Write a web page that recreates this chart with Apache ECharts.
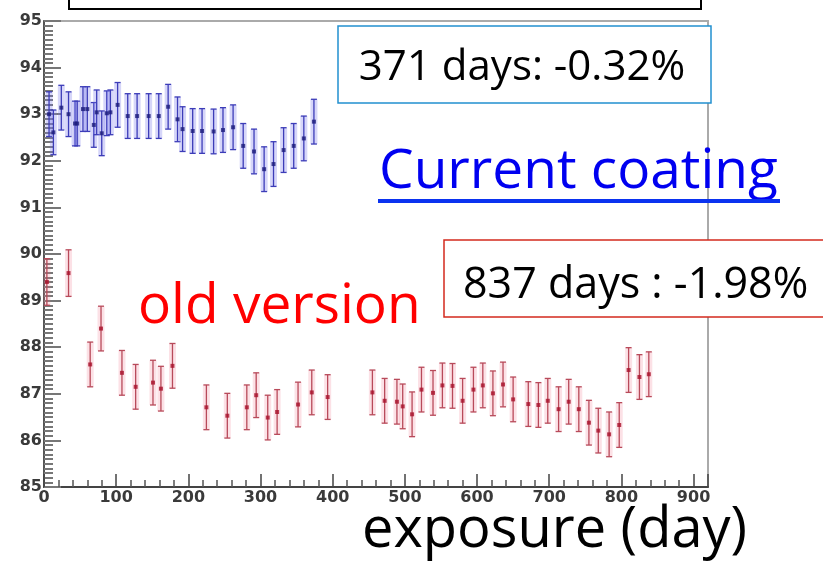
<!DOCTYPE html>
<html>
<head>
<meta charset="utf-8">
<script src="https://cdn.jsdelivr.net/npm/echarts@6/dist/echarts.min.js"></script>
<style>
html,body{margin:0;padding:0;background:#fff;}
#chart{width:823px;height:562px;}
</style>
</head>
<body>
<div id="chart"></div>
<script>
// ---- data ----
var blueDays = [7, 13, 24, 34, 43, 46, 54, 60, 69, 73, 80, 87, 92, 102, 116, 129, 145, 159, 172, 185, 192, 206, 219, 235, 248, 262, 276, 291, 305, 318, 332, 346, 360, 374];
var blueValues = [93.00, 92.61, 93.14, 93.00, 92.80, 92.80, 93.11, 93.11, 92.77, 93.04, 92.59, 93.02, 93.04, 93.20, 92.96, 92.96, 92.96, 92.96, 93.16, 92.89, 92.68, 92.64, 92.64, 92.63, 92.66, 92.72, 92.32, 92.20, 91.82, 91.93, 92.23, 92.32, 92.48, 92.84];
var blueErrors = [0.48, 0.48, 0.48, 0.48, 0.48, 0.48, 0.48, 0.48, 0.48, 0.48, 0.48, 0.48, 0.48, 0.48, 0.48, 0.48, 0.48, 0.48, 0.48, 0.48, 0.48, 0.48, 0.48, 0.48, 0.48, 0.48, 0.48, 0.48, 0.48, 0.48, 0.48, 0.48, 0.48, 0.48];

var redDays = [4, 34, 64, 79, 108, 127, 151, 162, 178, 225, 254, 281, 294, 310, 323, 352, 371, 393, 455, 472, 489, 497, 510, 523, 539, 552, 566, 580, 595, 608, 622, 636, 650, 671, 685, 698, 713, 727, 741, 755, 768, 783, 797, 810, 825, 838];
var redValues = [89.40, 89.59, 87.63, 88.40, 87.45, 87.15, 87.24, 87.11, 87.60, 86.71, 86.53, 86.71, 86.97, 86.49, 86.61, 86.77, 87.03, 86.93, 87.03, 86.85, 86.83, 86.73, 86.56, 87.09, 87.02, 87.18, 87.17, 86.85, 87.09, 87.18, 87.01, 87.20, 86.88, 86.78, 86.76, 86.85, 86.67, 86.83, 86.67, 86.38, 86.21, 86.13, 86.33, 87.51, 87.36, 87.42];
var redErrors = [0.50, 0.50, 0.48, 0.48, 0.48, 0.48, 0.48, 0.48, 0.48, 0.48, 0.48, 0.48, 0.48, 0.48, 0.48, 0.48, 0.48, 0.48, 0.48, 0.48, 0.48, 0.48, 0.48, 0.48, 0.48, 0.48, 0.48, 0.48, 0.48, 0.48, 0.48, 0.48, 0.48, 0.48, 0.48, 0.48, 0.48, 0.48, 0.48, 0.48, 0.48, 0.48, 0.48, 0.48, 0.48, 0.48];

var xTickLabels = ['0', '100', '200', '300', '400', '500', '600', '700', '800', '900'];
var yTickLabels = ['85', '86', '87', '88', '89', '90', '91', '92', '93', '94', '95'];

var boxBlueText = '371 days: -0.32%';
var boxRedText = '837 days : -1.98%';
var currentLabel = 'Current coating';
var oldLabel = 'old version';
var xTitle = 'exposure (day)';

// ---- build ----
function rows(d, v, e) {
  var out = [];
  for (var i = 0; i < d.length; i++) out.push([d[i], v[i], e[i]]);
  return out;
}
var blueRows = rows(blueDays, blueValues, blueErrors);
var redRows = rows(redDays, redValues, redErrors);

function errRender(halo, lineCol) {
  return function (params, api) {
    var x = api.value(0), y = api.value(1), e = api.value(2);
    var top = api.coord([x, y + e]);
    var bot = api.coord([x, y - e]);
    var cap = 3;
    return {
      type: 'group',
      children: [
        { type: 'rect', shape: { x: top[0] - 3.5, y: top[1], width: 7, height: bot[1] - top[1] }, style: { fill: halo } },
        { type: 'line', shape: { x1: top[0], y1: top[1], x2: bot[0], y2: bot[1] }, style: { stroke: lineCol, lineWidth: 1.3 } },
        { type: 'line', shape: { x1: top[0] - cap, y1: top[1], x2: top[0] + cap, y2: top[1] }, style: { stroke: lineCol, lineWidth: 1.3 } },
        { type: 'line', shape: { x1: bot[0] - cap, y1: bot[1], x2: bot[0] + cap, y2: bot[1] }, style: { stroke: lineCol, lineWidth: 1.3 } }
      ]
    };
  };
}

var chart = echarts.init(document.getElementById('chart'), null, { renderer: 'canvas' });
var labelFont = { fontFamily: 'DejaVu Sans', fontWeight: 'bold', fontSize: 16, color: '#3a3a3a' };

chart.setOption({
  animation: false,
  backgroundColor: '#ffffff',
  grid: { left: 44, right: 115, top: 21, bottom: 75, show: true, borderColor: '#aaaaaa', borderWidth: 2, backgroundColor: 'transparent' },
  xAxis: {
    type: 'value', min: 0, max: 920, interval: 100,
    axisLine: { show: true, onZero: false, lineStyle: { color: '#444', width: 2 } },
    axisTick: { show: true, inside: true, length: 13, lineStyle: { color: '#444', width: 1.5 } },
    minorTick: { show: true, splitNumber: 5, length: 7, lineStyle: { color: '#555', width: 1.5 } },
    splitLine: { show: false },
    axisLabel: Object.assign({ margin: 3, showMaxLabel: true, formatter: function (v) { var s = String(v); return xTickLabels.indexOf(s) >= 0 ? s : ''; } }, labelFont)
  },
  yAxis: {
    type: 'value', min: 85, max: 95, interval: 1,
    axisLine: { show: true, onZero: false, lineStyle: { color: '#555', width: 2 } },
    axisTick: { show: true, inside: true, length: 17, lineStyle: { color: '#777', width: 2 } },
    minorTick: { show: true, splitNumber: 10, length: 9, lineStyle: { color: '#777', width: 2 } },
    splitLine: { show: false },
    axisLabel: Object.assign({ margin: 2, formatter: function (v) { var s = String(v); return yTickLabels.indexOf(s) >= 0 ? s : ''; } }, labelFont)
  },
  series: [
    { type: 'custom', data: blueRows, renderItem: errRender('rgba(120,120,235,0.3)', '#3c3cb8'), encode: { x: 0, y: 1 }, z: 2 },
    { type: 'scatter', data: blueRows, symbol: 'rect', symbolSize: 4, itemStyle: { color: '#1a1a7a' }, encode: { x: 0, y: 1 }, z: 3 },
    { type: 'custom', data: redRows, renderItem: errRender('rgba(240,120,140,0.22)', '#b84a5a'), encode: { x: 0, y: 1 }, z: 2 },
    { type: 'scatter', data: redRows, symbol: 'rect', symbolSize: 4, itemStyle: { color: '#a8102a' }, encode: { x: 0, y: 1 }, z: 3 }
  ],
  graphic: [
    { type: 'rect', shape: { x: 69, y: -6, width: 632, height: 15 }, style: { fill: '#fff', stroke: '#000', lineWidth: 2 }, z: 10 },
    { type: 'rect', shape: { x: 338, y: 26, width: 373, height: 77 }, style: { fill: '#fff', stroke: '#2290d0', lineWidth: 1.5 }, z: 10 },
    { type: 'text', x: 522, y: 68, style: { text: boxBlueText, fontFamily: 'Open Sans', fontSize: 42, fill: '#000', align: 'center', verticalAlign: 'middle' }, z: 11 },
    { type: 'text', x: 379, y: 172, style: { text: currentLabel, fontFamily: 'Open Sans', fontSize: 55, fill: '#0000f0', align: 'left', verticalAlign: 'middle' }, z: 11 },
    { type: 'rect', shape: { x: 378, y: 199, width: 402, height: 4 }, style: { fill: '#0a32f0' }, z: 11 },
    { type: 'rect', shape: { x: 444, y: 240, width: 400, height: 77 }, style: { fill: '#fff', stroke: '#d42a1e', lineWidth: 1.5 }, z: 10 },
    { type: 'text', x: 463, y: 286, style: { text: boxRedText, fontFamily: 'Open Sans', fontSize: 43, fill: '#000', align: 'left', verticalAlign: 'middle' }, z: 11 },
    { type: 'text', x: 138, y: 307, style: { text: oldLabel, fontFamily: 'Open Sans', fontSize: 55, fill: '#ff0000', align: 'left', verticalAlign: 'middle' }, z: 11 },
    { type: 'text', x: 362, y: 531, style: { text: xTitle, fontFamily: 'Open Sans', fontSize: 56, fill: '#000', align: 'left', verticalAlign: 'middle' }, z: 11 }
  ]
});
</script>
</body>
</html>
